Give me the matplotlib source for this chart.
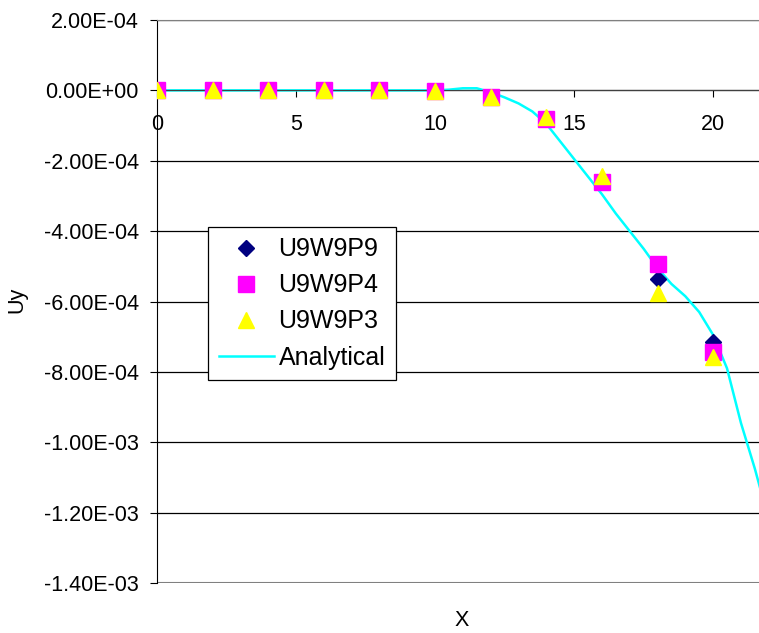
import matplotlib
matplotlib.use('Agg')
import matplotlib.pyplot as plt
from matplotlib.ticker import FuncFormatter, MultipleLocator

plt.rcParams['font.family'] = ['Liberation Sans', 'DejaVu Sans']

# numerical results at the nodes
x_nodes = [0, 2, 4, 6, 8, 10, 12, 14, 16, 18, 20]
u9w9p9 = [0, 0, 0, 0, 0, -0.02e-4, -0.18e-4, -0.80e-4, -2.55e-4, -5.35e-4, -7.15e-4]
u9w9p4 = [0, 0, 0, 0, 0, -0.02e-4, -0.20e-4, -0.82e-4, -2.59e-4, -4.94e-4, -7.44e-4]
u9w9p3 = [0, 0, 0, 0, 0, -0.02e-4, -0.18e-4, -0.77e-4, -2.42e-4, -5.77e-4, -7.58e-4]

# analytical curve
x_an = [0, 2, 4, 6, 8, 10, 10.5, 11, 11.5, 12, 12.5, 13, 13.5, 14, 14.5, 15,
        15.5, 16, 16.5, 17, 17.5, 18, 18.5, 19, 19.5, 20, 20.5, 21, 21.5, 22]
y_an = [0, 0, 0, 0, 0, 0, 0.02e-4, 0.06e-4, 0.06e-4, -0.05e-4, -0.2e-4, -0.37e-4,
        -0.6e-4, -0.95e-4, -1.45e-4, -1.95e-4, -2.45e-4, -2.95e-4, -3.5e-4,
        -4.0e-4, -4.5e-4, -5.05e-4, -5.5e-4, -5.85e-4, -6.3e-4, -6.95e-4,
        -7.9e-4, -9.45e-4, -10.75e-4, -12.2e-4]

FS = 15.5

fig = plt.figure(figsize=(7.59, 6.33), dpi=100)
ax = fig.add_axes([157 / 759, 1 - 583 / 633, 1 - 157 / 759, 563 / 633])

ax.plot(x_an, y_an, color='#00FFFF', linewidth=1.8, label='Analytical', zorder=2)
ax.plot(x_nodes, u9w9p9, linestyle='none', marker='D', markersize=8.1,
        color='#000080', label='U9W9P9', zorder=3)
ax.plot(x_nodes, u9w9p4, linestyle='none', marker='s', markersize=11,
        color='#FF00FF', label='U9W9P4', zorder=4)
ax.plot(x_nodes, u9w9p3, linestyle='none', marker='^', markersize=11.5,
        color='#FFFF00', label='U9W9P3', zorder=5)

ax.set_xlim(0, 21.65)
ax.set_ylim(-1.4e-3, 2e-4)
ax.yaxis.set_major_locator(MultipleLocator(2e-4))
ax.xaxis.set_major_locator(MultipleLocator(5))


def yfmt(v, pos):
    if abs(v) < 1e-12:
        v = 0.0
    return f'{v:.2E}'


ax.yaxis.set_major_formatter(FuncFormatter(yfmt))

ax.grid(axis='y', color='black', linewidth=0.9)
ax.set_axisbelow(True)

ax.spines['right'].set_visible(False)
ax.spines['top'].set_color('#808080')
ax.spines['bottom'].set_position(('data', 0))
ax.spines['bottom'].set_color('#404040')
ax.spines['left'].set_color('black')
ax.axhline(-1.4e-3, color='#808080', linewidth=1.5, zorder=1)

ax.tick_params(axis='y', direction='out', length=5, pad=8, labelsize=FS)
ax.tick_params(axis='x', direction='out', length=5, pad=12, labelsize=FS)

ax.set_ylabel('Uy', fontsize=FS, va='center')
ax.set_xlabel('X', fontsize=FS, va='center')
ax.xaxis.set_label_coords((462 - 157) / 602, -(620 - 583) / 563)
ax.yaxis.set_label_coords(-(157 - 17) / 602, (583 - 300) / 563)

handles, labels = ax.get_legend_handles_labels()
order = [1, 2, 3, 0]
leg = ax.legend([handles[i] for i in order], [labels[i] for i in order],
                loc='upper left', bbox_to_anchor=(51 / 602, (583 - 227) / 563),
                borderaxespad=0, fontsize=18, fancybox=False, framealpha=1,
                edgecolor='black', handlelength=2.2, handletextpad=0.2,
                labelspacing=0.48, borderpad=0.42)
leg.get_frame().set_linewidth(0.9)

fig.savefig('out.png', dpi=100)
